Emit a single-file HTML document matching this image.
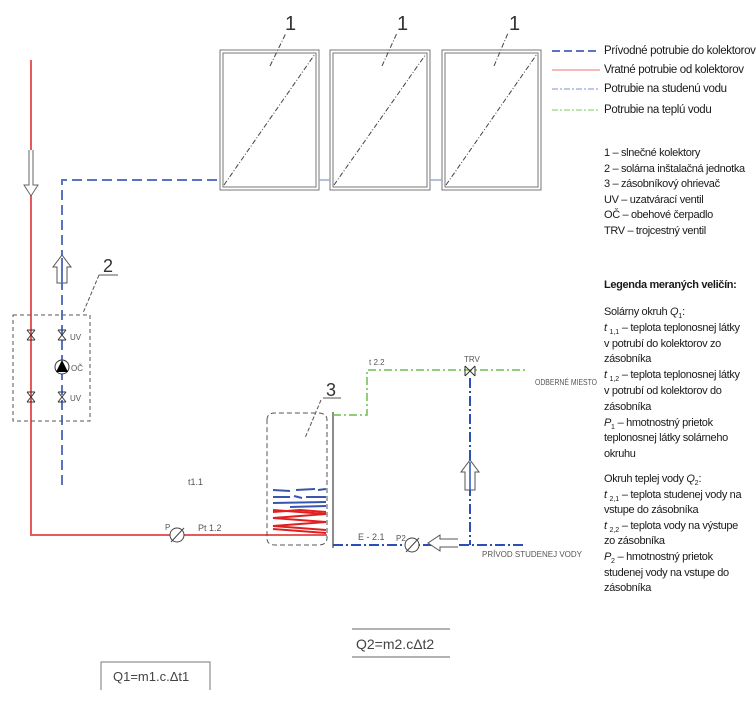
<!DOCTYPE html>
<html><head><meta charset="utf-8">
<style>
html,body{margin:0;padding:0;background:#fff;}
body{width:756px;height:708px;position:relative;overflow:hidden;font-family:"Liberation Sans",sans-serif;}
.lg{position:absolute;left:604px;font-size:11px;letter-spacing:-0.35px;color:#1a1a1a;white-space:nowrap;line-height:14px;}
.b{font-weight:bold;}
.s{font-size:7px;position:relative;top:3px;line-height:0;letter-spacing:0;}
i{font-style:italic;}
</style></head><body>
<svg width="756" height="708" style="position:absolute;left:0;top:0" font-family="Liberation Sans, sans-serif">
<!-- collectors -->
<g fill="none" stroke="#777" stroke-width="1">
<rect x="220" y="50" width="99" height="140"/><rect x="223" y="53" width="93" height="134"/>
<rect x="330" y="50" width="100" height="140"/><rect x="333" y="53" width="94" height="134"/>
<rect x="442" y="50" width="99" height="140"/><rect x="445" y="53" width="93" height="134"/>
</g>
<g stroke="#444" stroke-width="1" stroke-dasharray="5,2,1,2" fill="none">
<line x1="224" y1="185" x2="315" y2="54"/>
<line x1="334" y1="185" x2="426" y2="54"/>
<line x1="446" y1="185" x2="537" y2="54"/>
<line x1="270" y1="66" x2="286" y2="33"/>
<line x1="382" y1="66" x2="397" y2="33"/>
<line x1="494" y1="66" x2="508" y2="33"/>
</g>
<g font-size="20" fill="#333"><text x="285" y="30">1</text><text x="397" y="30">1</text><text x="509" y="30">1</text></g>
<!-- blue supply -->
<g stroke="#5b74c0" stroke-width="2" fill="none" stroke-dasharray="10,5">
<polyline points="62,485 62,180 220,180"/>
</g>
<line x1="319" y1="180" x2="330" y2="180" stroke="#99a8d8" stroke-width="1.5"/>
<line x1="430" y1="180" x2="442" y2="180" stroke="#99a8d8" stroke-width="1.5"/>
<!-- red return -->
<polyline points="31,60 31,535 327,535" fill="none" stroke="#e85a5a" stroke-width="2"/>
<!-- down arrow on red -->
<g stroke="#666" fill="#fff" stroke-width="1"><path d="M29,150 L29,185 L24,185 L31,196 L38,185 L33,185 L33,150"/></g>
<!-- up arrow blue -->
<path d="M57,283 L57,267 L53,267 L62,255 L71,267 L67,267 L67,283 Z" fill="#fff" stroke="#555"/>
<line x1="62" y1="258" x2="62" y2="283" stroke="#5b74c0" stroke-width="2"/>
<!-- unit 2 -->
<rect x="13" y="315" width="77" height="106" fill="none" stroke="#555" stroke-dasharray="4,3"/>
<text x="103" y="272" font-size="18" fill="#333">2</text>
<line x1="99" y1="275" x2="118" y2="275" stroke="#555"/>
<line x1="99" y1="275" x2="83" y2="313" stroke="#555" stroke-dasharray="4,2"/>
<g stroke="#333" fill="none" stroke-width="1">
<path d="M27,330 L35,340 M35,330 L27,340 M27,330 L35,330 M27,340 L35,340"/>
<path d="M27,392 L35,402 M35,392 L27,402 M27,392 L35,392 M27,402 L35,402"/>
<path d="M58,330 L66,340 M66,330 L58,340 M58,330 L66,330 M58,340 L66,340"/>
<path d="M58,392 L66,402 M66,392 L58,402 M58,392 L66,392 M58,402 L66,402"/>
<circle cx="62" cy="367" r="7" fill="#fff"/>
</g>
<path d="M56,372 L62,360 L68,372 Z" fill="#000"/>
<g font-size="8" fill="#555"><text x="70" y="340">UV</text><text x="71" y="371">OČ</text><text x="70" y="401">UV</text></g>
<!-- tank -->
<path d="M267,420 Q267,413 275,413 L318,413 Q327,413 327,420 L327,538 Q327,545 318,545 L275,545 Q267,545 267,538 Z" fill="none" stroke="#555" stroke-dasharray="5,3"/>
<line x1="333" y1="412" x2="333" y2="548" stroke="#666" stroke-width="1.5"/>
<text x="326" y="396" font-size="18" fill="#333">3</text>
<line x1="323" y1="398" x2="341" y2="398" stroke="#555"/>
<line x1="321" y1="400" x2="305" y2="438" stroke="#555" stroke-dasharray="4,2"/>
<!-- coil -->
<g stroke="#3a55b0" stroke-width="2" fill="none">
<path d="M273,490 L290,491 M296,490 L315,489 M318,490 L326,489"/>
<path d="M273,497 L290,497 M294,496 L302,498 M306,497 L326,497"/>
<path d="M273,503 L326,502 M290,507 L326,506"/>
</g>
<g stroke="#e02020" stroke-width="2" fill="none">
<path d="M273,510 L326,514 L273,518 L326,522 L273,526 L326,530"/>
<path d="M273,512 L300,510 L326,512 M273,529 L326,533"/>
</g>
<!-- green hot -->
<polyline points="333,415 367,415 367,370 527,370" fill="none" stroke="#6cbf4a" stroke-width="1.5" stroke-dasharray="8,3,2,3"/>
<text x="369" y="365" font-size="8" fill="#555">t 2.2</text>
<!-- TRV -->
<g stroke="#333" fill="none"><path d="M465,366 L475,376 M475,366 L465,376 M465,366 L465,376 M475,366 L475,376"/></g>
<text x="464" y="362" font-size="8" fill="#555">TRV</text>
<text x="535" y="385" font-size="8" fill="#555" textLength="62" lengthAdjust="spacingAndGlyphs">ODBERNÉ MIESTO</text>
<!-- blue cold -->
<g stroke="#2a50b8" stroke-width="2" fill="none" stroke-dasharray="10,3,2,3">
<line x1="470" y1="378" x2="470" y2="545"/>
<line x1="333" y1="545" x2="525" y2="545"/>
</g>
<path d="M465,490 L465,472 L461,472 L470,460 L479,472 L475,472 L475,490 Z" fill="#fff" stroke="#555"/>
<line x1="470" y1="462" x2="470" y2="490" stroke="#2a50b8" stroke-width="1.5"/>
<path d="M458,539 L440,539 L440,535 L428,543 L440,551 L440,547 L458,547" fill="#fff" stroke="#555"/>
<circle cx="412" cy="545" r="7" fill="#fff" stroke="#444"/>
<line x1="406" y1="552" x2="419" y2="538" stroke="#444"/>
<text x="396" y="541" font-size="8" fill="#555">P2</text>
<text x="358" y="540" font-size="9" fill="#555">E - 2.1</text>
<text x="482" y="557" font-size="8" fill="#555">PRÍVOD STUDENEJ VODY</text>
<!-- P1 -->
<circle cx="177" cy="535" r="7" fill="#fff" stroke="#444"/>
<line x1="171" y1="542" x2="184" y2="528" stroke="#444"/>
<text x="165" y="530" font-size="8" fill="#555">P</text>
<text x="198" y="531" font-size="9" fill="#555">Pt 1.2</text>
<text x="188" y="485" font-size="9" fill="#555">t1.1</text>
<!-- formulas -->
<line x1="352" y1="629" x2="450" y2="629" stroke="#666"/>
<line x1="352" y1="657" x2="450" y2="657" stroke="#666"/>
<text x="356" y="649" font-size="14" fill="#444">Q2=m2.cΔt2</text>
<path d="M101,690 L101,662 L210,662 L210,690" fill="none" stroke="#777"/>
<text x="113" y="681" font-size="13" fill="#444">Q1=m1.c.Δt1</text>
<!-- legend samples -->
<line x1="552" y1="51" x2="600" y2="51" stroke="#5b74c0" stroke-width="2" stroke-dasharray="8,4"/>
<line x1="552" y1="70" x2="600" y2="70" stroke="#f07070" stroke-width="1"/>
<line x1="552" y1="89" x2="600" y2="89" stroke="#8090d0" stroke-width="1" stroke-dasharray="6,2,2,2"/>
<line x1="552" y1="110" x2="600" y2="110" stroke="#7ccc5a" stroke-width="1" stroke-dasharray="6,2,2,2"/>
</svg>
<div class="lg" style="top:44px;font-size:11.5px">Prívodné potrubie do kolektorov</div>
<div class="lg" style="top:63px;font-size:11.5px">Vratné potrubie od kolektorov</div>
<div class="lg" style="top:82px;font-size:11.5px">Potrubie na studenú vodu</div>
<div class="lg" style="top:103px;font-size:11.5px">Potrubie na teplú vodu</div>
<div class="lg" style="top:146px;line-height:15.6px">1 – slnečné kolektory<br>2 – solárna inštalačná jednotka<br>3 – zásobníkový ohrievač<br>UV – uzatvárací ventil<br>OČ – obehové čerpadlo<br>TRV – trojcestný ventil</div>
<div class="lg b" style="top:278px">Legenda meraných veličín:</div>
<div class="lg" style="top:305px;line-height:15.8px">Solárny okruh <i>Q</i><span class="s">1</span>:<br><i>t</i> <span class="s">1,1</span> – teplota teplonosnej látky<br>v potrubí do kolektorov zo<br>zásobníka<br><i>t</i> <span class="s">1,2</span> – teplota teplonosnej látky<br>v potrubí od kolektorov do<br>zásobníka<br><i>P</i><span class="s">1</span> – hmotnostný prietok<br>teplonosnej látky solárneho<br>okruhu</div>
<div class="lg" style="top:472px;line-height:15.6px">Okruh teplej vody <i>Q</i><span class="s">2</span>:<br><i>t</i> <span class="s">2,1</span> – teplota studenej vody na<br>vstupe do zásobníka<br><i>t</i> <span class="s">2,2</span> – teplota vody na výstupe<br>zo zásobníka<br><i>P</i><span class="s">2</span> – hmotnostný prietok<br>studenej vody na vstupe do<br>zásobníka</div>
</body></html>
